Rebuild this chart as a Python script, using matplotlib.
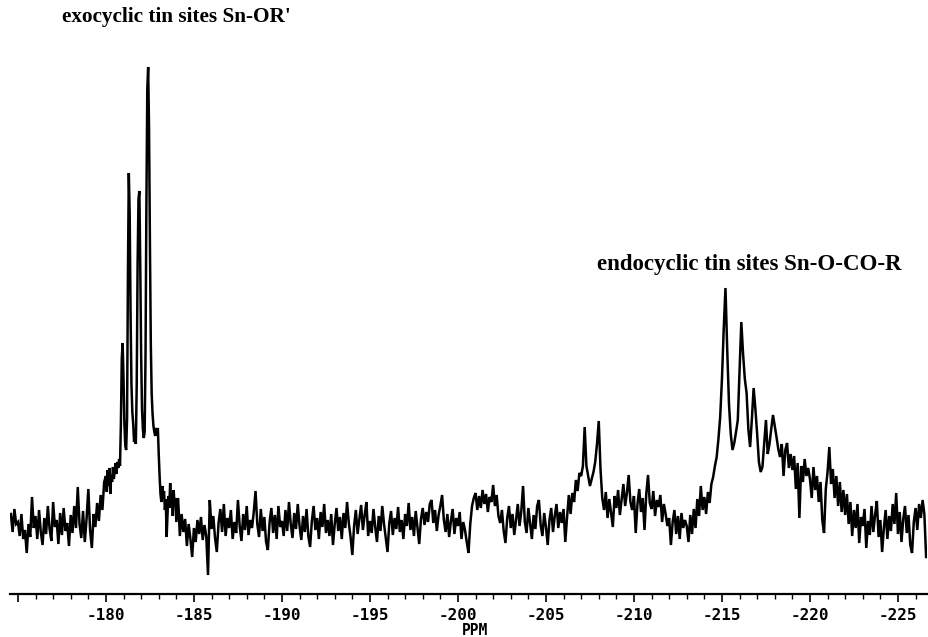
import numpy as np
import matplotlib
matplotlib.use("Agg")
import matplotlib.pyplot as plt
from matplotlib.ticker import MultipleLocator, FixedLocator

# ---- data: 119Sn NMR trace (intensity, arbitrary units) ----
# segment A: -174.6 .. -179.9 ppm, step 0.1
seg_a_start, seg_a_step = -174.6, 0.1
seg_a = [80, 62, 85, 70,
         72, 58, 80, 55, 64, 41, 70, 57, 97, 66,
         78, 55, 84, 62, 49, 76, 60, 88, 65, 53,
         92, 67, 74, 50, 81, 59, 86, 63, 71, 48,
         79, 61, 88, 66, 107, 70, 56, 83, 52, 75,
         105, 64, 46, 80, 67, 91, 73, 99, 84, 112]

# segment B (exocyclic Sn-OR' multiplet): -180.00 .. -183.95 ppm, step 0.05
seg_b_start, seg_b_step = -180.0, 0.05
seg_b = [118, 102, 124, 108, 126, 100, 119, 112, 127, 115,
         123, 131, 120, 132, 126, 135, 128, 170, 235, 251,
         215, 170, 148, 144, 175, 320, 421, 380, 280, 210,
         182, 170, 152, 158, 150, 210, 330, 395, 403, 330,
         240, 185, 165, 156, 162, 240, 390, 505, 527, 465,
         350, 250, 200, 180, 168, 162, 158, 166, 160, 166,
         140, 118, 100, 92, 108, 96, 103, 84, 95, 57,
         80, 98, 86, 111, 90, 100, 78, 104, 88, 96]

# segment C1 (baseline): -184.0 .. -200.4 ppm, step 0.1
seg_c1_start, seg_c1_step = -184.0, 0.1
seg_c1 = [72, 96, 58, 80, 62, 75, 48, 70, 55, 37,
          66, 52, 74, 60, 77, 54, 69, 58, 19, 94,
          65, 78, 56, 42, 71, 85, 62, 90, 58, 76,
          66, 84, 55, 72, 61, 94, 68, 53, 80, 64,
          88, 59, 74, 66, 82, 103, 70, 57, 85, 63,
          77, 52, 44, 72, 86, 61, 79, 55, 88, 67,
          73, 58, 84, 63, 92, 70, 56, 81, 65, 90,
          68, 54, 78, 62, 85, 58, 47, 73, 88, 64,
          76, 55, 82, 67, 90, 61, 74, 58, 80, 49,
          70, 86, 63, 77, 55, 81, 66, 92, 71, 57,
          39, 68, 84, 60, 75, 89, 64, 79, 92, 58,
          73, 61, 85, 67, 52, 78, 63, 88, 70, 56,
          42, 71, 83, 59, 76, 65, 87, 62, 74, 55,
          80, 68, 91, 64, 77, 58, 83, 66, 50, 75,
          86, 69, 82, 72, 90, 94, 71, 84, 63, 79,
          88, 99, 74, 62, 80, 57, 73, 85, 60, 76,
          68, 82, 55, 72, 64]

# segment C2 (-207 / -208 doublet): -200.5 .. -212.9 ppm, step 0.1
seg_c2_start, seg_c2_step = -200.5, 0.1
seg_c2 = [52, 41, 70, 88, 96,
          101, 84, 98, 86, 104, 90, 100, 82, 97, 92,
          109, 88, 99, 78, 71, 84, 63, 51, 76, 88,
          66, 80, 59, 74, 90, 68, 83, 108, 72, 61,
          86, 70, 55, 79, 65, 88, 94, 69, 58, 81,
          67, 49, 74, 86, 62, 78, 90, 66, 82, 71,
          85, 52, 77, 99, 80, 101, 92, 114, 103, 121,
          118, 128, 167, 128, 118, 108, 115, 122, 132, 150,
          173, 125, 96, 84, 102, 76, 95, 81, 67, 98,
          86, 104, 79, 95, 110, 88, 101, 119, 92, 84,
          98, 61, 90, 105, 82, 96, 64, 100, 119, 91,
          85, 103, 78, 94, 87, 99, 72, 90, 80, 68,
          76, 49, 72, 84, 60, 78, 55, 81, 66, 74]

# segment C3 (endocyclic Sn-O-CO-R): -213.0 .. -226.6 ppm, step 0.1
seg_c3_start, seg_c3_step = -213.0, 0.1
seg_c3 = [68, 52, 79, 60, 85, 66, 95, 78, 108, 84,
          97, 80, 102, 91, 110, 117, 128, 137, 155, 177,
          215, 265, 306, 244, 190, 160, 144, 151, 162, 174,
          224, 272, 240, 215, 201, 165, 147, 175, 206, 185,
          160, 132, 122, 127, 150, 174, 140, 150, 165, 179,
          168, 157, 145, 137, 150, 118, 144, 151, 126, 140,
          124, 138, 105, 131, 76, 128, 112, 135, 118, 126,
          115, 96, 127, 104, 118, 92, 112, 74, 61, 105,
          122, 147, 110, 125, 96, 118, 88, 112, 82, 104,
          79, 100, 70, 92, 58, 84, 66, 90, 51, 77,
          68, 85, 46, 73, 59, 88, 62, 79, 93, 57,
          74, 42, 66, 84, 55, 78, 63, 90, 70, 101,
          60, 82, 52, 75, 88, 61, 79, 49, 41, 72,
          86, 64, 90, 76, 94, 80, 37]

major_ticks = [-175, -180, -185, -190, -195, -200, -205, -210, -215, -220, -225]
tick_labels = ["", "-180", "-185", "-190", "-195", "-200", "-205", "-210",
               "-215", "-220", "-225"]
x_label = "PPM"
label_exo = "exocyclic tin sites Sn-OR'"
label_endo = "endocyclic tin sites Sn-O-CO-R"

# ---- build trace ----
segments = [(seg_a_start, seg_a_step, seg_a),
            (seg_b_start, seg_b_step, seg_b),
            (seg_c1_start, seg_c1_step, seg_c1),
            (seg_c2_start, seg_c2_step, seg_c2),
            (seg_c3_start, seg_c3_step, seg_c3)]
ppm = np.concatenate([s - st * np.arange(len(v)) for s, st, v in segments])
inten = np.concatenate([np.asarray(v, float) for _, _, v in segments])

W, H = 929, 637
fig = plt.figure(figsize=(W / 100, H / 100), dpi=100)
ax_bottom_px = 594
ax = fig.add_axes([10 / W, (H - ax_bottom_px) / H, 917 / W, ax_bottom_px / H])
ax.plot(ppm, inten, color="black", lw=1.8, solid_joinstyle="miter")
ax.set_xlim(-174.55, -226.65)
ax.set_ylim(0, ax_bottom_px)

for s in ("top", "left", "right"):
    ax.spines[s].set_visible(False)
ax.spines["bottom"].set_linewidth(1.6)
ax.set_yticks([])
ax.xaxis.set_major_locator(FixedLocator(major_ticks))
ax.set_xticklabels(tick_labels, fontfamily="DejaVu Sans Mono", fontsize=11.5,
                   fontweight="bold")
ax.xaxis.set_minor_locator(MultipleLocator(1))
ax.tick_params(axis="x", which="major", direction="out", length=6, width=1.2, pad=4)
ax.tick_params(axis="x", which="minor", direction="out", length=3.5, width=1.0)

fig.text(475 / W, 1 - 623 / H, x_label, ha="center", va="top",
         fontfamily="DejaVu Sans Mono", fontsize=10.5, fontweight="bold")
fig.text(62 / W, 1 - 17 / H, label_exo, ha="left", va="center",
         fontfamily="Liberation Serif", fontweight="bold", fontsize=15.3)
fig.text(597 / W, 1 - 265 / H, label_endo, ha="left", va="center",
         fontfamily="Liberation Serif", fontweight="bold", fontsize=16.5)

fig.savefig("out.png", dpi=100, facecolor="white")
